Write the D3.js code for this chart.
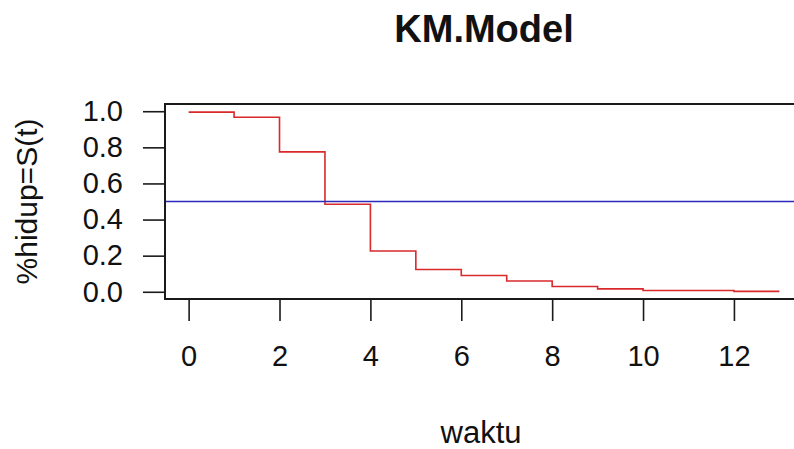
<!DOCTYPE html>
<html>
<head>
<meta charset="utf-8">
<script src="https://cdn.jsdelivr.net/npm/d3@7"></script>
<style>
  body { margin: 0; background: #fff; }
  svg { display: block; font-family: "Liberation Sans", Arial, sans-serif; }
</style>
</head>
<body>
<div id="chart"></div>
<script>
// Kaplan-Meier estimate
const waktu = [0, 1, 2, 3, 4, 5, 6, 7, 8, 9, 10, 12, 13];
const survival = [0.995, 0.967, 0.775, 0.485, 0.226, 0.123, 0.090, 0.060, 0.029, 0.016, 0.007, 0.002, 0.002];
const xTicks = [0, 2, 4, 6, 8, 10, 12];
const yTicks = [0, 0.2, 0.4, 0.6, 0.8, 1.0];
const refLine = 0.5;

const width = 794, height = 449;
const plot = {left: 165, right: 803, top: 104, bottom: 299};

const svg = d3.select("#chart")
    .append("svg")
        .attr("width", width)
        .attr("height", height);

// R style: 4% padding on each side of the data range
const x = d3.scaleLinear()
    .domain([-0.52, 13.52])
    .range([plot.left, plot.right]);

const y = d3.scaleLinear()
    .domain([-0.04, 1.04])
    .range([plot.bottom, plot.top]);

svg.append("defs").append("clipPath")
    .attr("id", "clip")
    .append("rect")
        .attr("x", plot.left)
        .attr("y", plot.top)
        .attr("width", plot.right - plot.left)
        .attr("height", plot.bottom - plot.top);

const data = waktu.map((t, i) => ({t: t, s: survival[i]}));

// survival step curve
const line = d3.line()
    .x(d => x(d.t))
    .y(d => y(d.s))
    .curve(d3.curveStepAfter);

svg.append("path")
    .datum(data)
    .attr("fill", "none")
    .attr("stroke", "#d8292b")
    .attr("stroke-width", 1.6)
    .attr("d", line);

// median reference line (abline h = 0.5)
svg.append("line")
    .attr("clip-path", "url(#clip)")
    .attr("x1", plot.left)
    .attr("x2", plot.right)
    .attr("y1", y(refLine))
    .attr("y2", y(refLine))
    .attr("stroke", "#2b2bc0")
    .attr("stroke-width", 1.5);

// box
svg.append("rect")
    .attr("x", plot.left)
    .attr("y", plot.top)
    .attr("width", plot.right - plot.left)
    .attr("height", plot.bottom - plot.top)
    .attr("fill", "none")
    .attr("stroke", "#1a1a1a")
    .attr("stroke-width", 2);

// x axis
const xAxis = svg.append("g")
    .attr("transform", `translate(0, ${plot.bottom})`)
    .call(d3.axisBottom(x)
        .tickValues(xTicks)
        .tickSize(22)
        .tickPadding(24)
        .tickFormat(d3.format("d")));
xAxis.select(".domain").remove();
xAxis.selectAll(".tick line").attr("stroke", "#1a1a1a").attr("stroke-width", 1.6);
xAxis.selectAll(".tick text")
    .attr("fill", "#111")
    .style("font-size", "29px")
    .style("font-family", "'Liberation Sans', Arial, sans-serif");

// y axis
const yAxis = svg.append("g")
    .attr("transform", `translate(${plot.left}, 0)`)
    .call(d3.axisLeft(y)
        .tickValues(yTicks)
        .tickSize(22)
        .tickPadding(20)
        .tickFormat(d3.format(".1f")));
yAxis.select(".domain").remove();
yAxis.selectAll(".tick line").attr("stroke", "#1a1a1a").attr("stroke-width", 1.6);
yAxis.selectAll(".tick text")
    .attr("fill", "#111")
    .style("font-size", "29px")
    .style("font-family", "'Liberation Sans', Arial, sans-serif");

// title
svg.append("text")
    .attr("x", (plot.left + plot.right) / 2)
    .attr("y", 42)
    .attr("text-anchor", "middle")
    .style("font-size", "38px")
    .style("font-weight", "bold")
    .attr("fill", "#111")
    .text("KM.Model");

// x-axis label
svg.append("text")
    .attr("x", 481)
    .attr("y", 443)
    .attr("text-anchor", "middle")
    .style("font-size", "31px")
    .attr("fill", "#111")
    .text("waktu");

// y-axis label
svg.append("text")
    .attr("transform", "rotate(-90)")
    .attr("x", -(plot.top + plot.bottom) / 2)
    .attr("y", 37)
    .attr("text-anchor", "middle")
    .style("font-size", "30px")
    .attr("fill", "#111")
    .text("%hidup=S(t)");
</script>
</body>
</html>
